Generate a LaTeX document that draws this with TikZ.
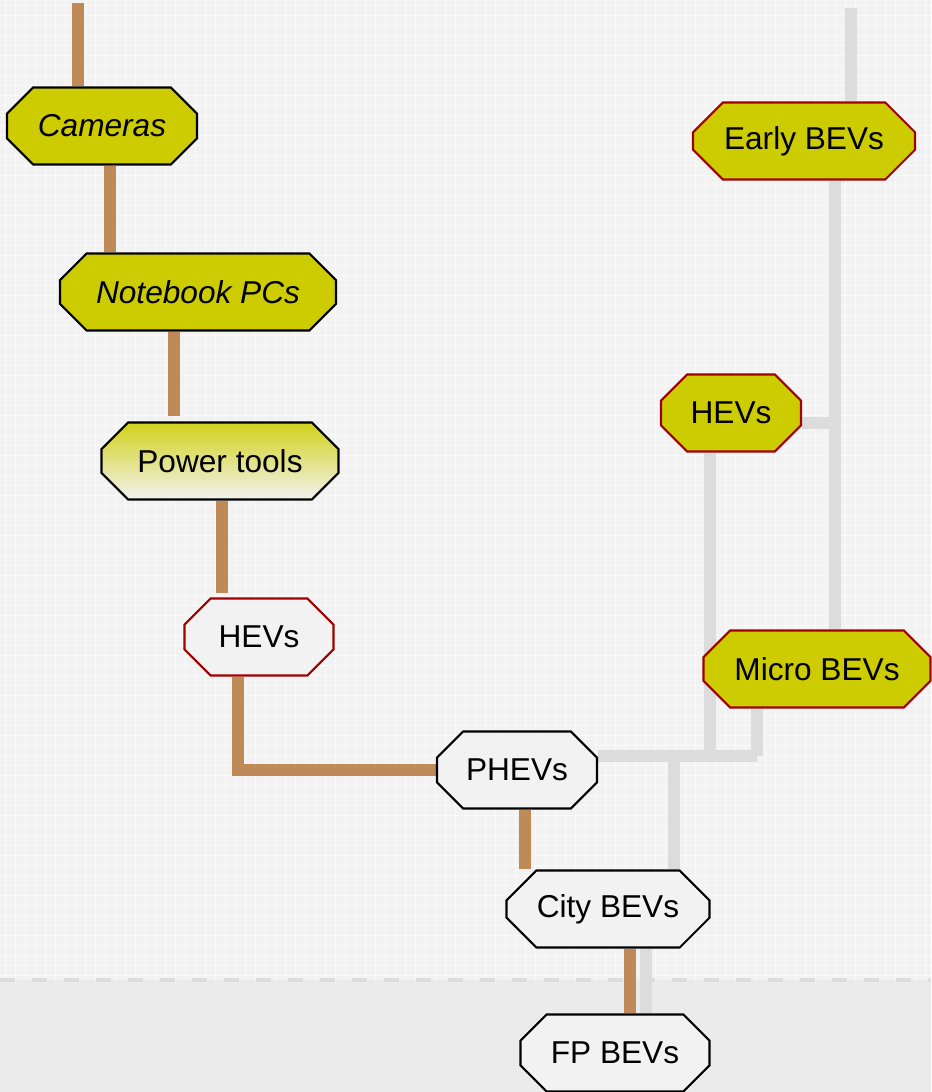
\documentclass[tikz,border=0pt]{standalone}
\usepackage{fontspec}
\setmainfont{Liberation Sans}
\usepackage{tikz}
\usetikzlibrary{shapes.misc, calc, backgrounds}

\definecolor{bgcol}{RGB}{242,242,242}
\definecolor{bandcol}{RGB}{235,235,235}
\definecolor{oldgold}{RGB}{204,204,0}
\definecolor{paleness}{RGB}{242,242,242}
\definecolor{darkred}{RGB}{160,0,0}
\definecolor{copper}{RGB}{192,138,88}
\definecolor{ashline}{RGB}{220,220,220}

\tikzset{
  tech/.style={chamfered rectangle, chamfered rectangle xsep=0.3cm,
    chamfered rectangle ysep=0.3cm, draw=black, line width=1.2pt,
    fill=paleness, minimum height=1.54cm, inner sep=0pt,
    font=\fontsize{18}{21}\selectfont},
  yellowbox/.style={tech, fill=oldgold},
  redrim/.style={draw=darkred},
  brownpath/.style={copper, line width=0.24cm},
  greypath/.style={ashline, line width=0.24cm}
}

\begin{document}
\begin{tikzpicture}[x=0.02cm, y=-0.02cm]
  % background
  \useasboundingbox (0,0) rectangle (931,1092);
  \begin{pgfonlayer}{background}
  \fill[bgcol] (0,0) rectangle (931,1092);
  \foreach \gx in {5,15,...,931}
    \draw[white, line width=0.4pt, opacity=0.6] (\gx,0) -- (\gx,980);
  \foreach \gy in {5,15,...,980}
    \draw[white, line width=0.4pt, opacity=0.6] (0,\gy) -- (931,\gy);
  \fill[bandcol] (0,980) rectangle (931,1092);
  \draw[ashline, line width=2pt, dash pattern=on 0.3cm off 0.34cm] (0,980) -- (931,980);
  \end{pgfonlayer}

  % nodes, left branch
  \node[yellowbox, minimum width=3.8cm, font=\fontsize{18}{21}\selectfont\itshape] (cam) at (102,126) {Cameras};
  \node[yellowbox, minimum width=5.52cm, font=\fontsize{18}{21}\selectfont\itshape] (nb) at (198,292) {Notebook PCs};
  \node[tech, minimum width=4.74cm, fill=none, top color=oldgold!90, bottom color=paleness] (pt) at (220,461) {Power tools};
  \node[tech, redrim, minimum width=2.98cm] (hevL) at (259,637) {HEVs};
  \node[tech, minimum width=3.2cm] (phev) at (517,770) {PHEVs};
  \node[tech, minimum width=4.06cm] (city) at (608,909) {City BEVs};
  \node[tech, minimum width=3.78cm] (fp) at (615,1053) {FP BEVs};

  % nodes, right branch
  \node[yellowbox, redrim, minimum width=4.44cm] (ebev) at (804,141) {Early BEVs};
  \node[yellowbox, redrim, minimum width=2.8cm] (hevR) at (731,413) {HEVs};
  \node[yellowbox, redrim, minimum width=4.54cm] (mbev) at (817,669) {Micro BEVs};

  \begin{pgfonlayer}{background}
  % grey connectors
  \coordinate (topR) at (851,8);
  \coordinate (bus) at (757,756);
  \draw[greypath] (topR) -- (ebev.north -| topR);
  \draw[greypath] (ebev.south -| 835,0) -- (mbev.north -| 835,0);
  \draw[greypath] (hevR.east |- 0,423) -- (835,423);
  \draw[greypath] (hevR.south -| 710,0) -- (bus -| 710,0);
  \draw[greypath] (mbev.south -| bus) -- (bus);
  \draw[greypath] (phev.east |- bus) -- (bus);
  \draw[greypath] (bus -| 674,0) -- (city.north -| 674,0);
  \draw[greypath] (city.south -| 646,0) -- (fp.north -| 646,0);

  % brown connectors
  \coordinate (topL) at (78,3);
  \draw[brownpath] (topL) -- (cam.north -| topL);
  \draw[brownpath] (cam.south -| 110,0) -- (nb.north -| 110,0);
  \draw[brownpath, shorten >=0.1cm] (nb.south -| 174,0) -- (pt.north -| 174,0);
  \draw[brownpath, shorten >=0.08cm] (pt.south -| 222,0) -- (hevL.north -| 222,0);
  \draw[brownpath] (hevL.south -| 238,0) |- (phev.west);
  \draw[brownpath] (phev.south -| 525,0) -- (city.north -| 525,0);
  \draw[brownpath] (city.south -| 630,0) -- (fp.north -| 630,0);
  \end{pgfonlayer}
\end{tikzpicture}
\end{document}
